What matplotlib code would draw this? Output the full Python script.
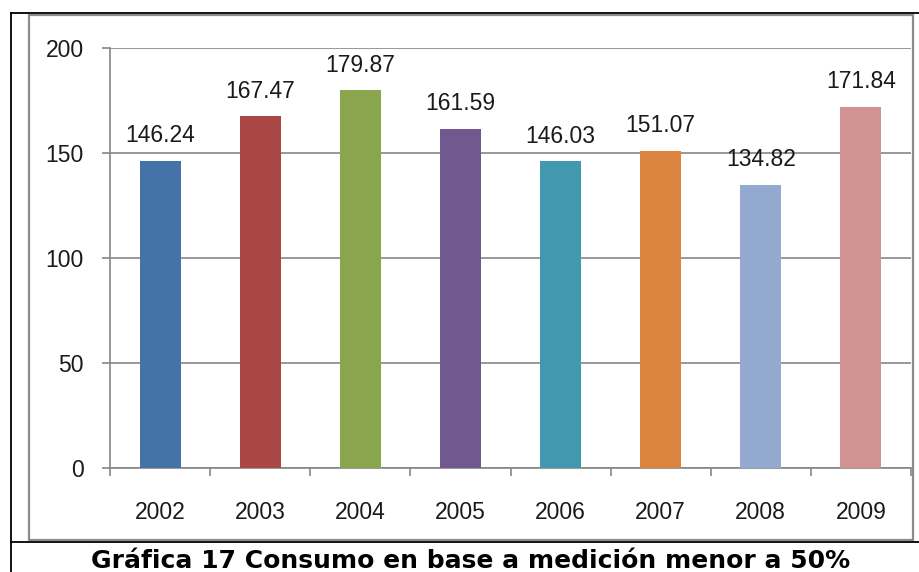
import matplotlib
matplotlib.use("Agg")
import matplotlib.pyplot as plt
from matplotlib.lines import Line2D
from matplotlib.patches import Rectangle

years = ["2002", "2003", "2004", "2005", "2006", "2007", "2008", "2009"]
values = [146.24, 167.47, 179.87, 161.59, 146.03, 151.07, 134.82, 171.84]
colors = ["#4572A7", "#AA4643", "#89A54E", "#71588F", "#4198AF", "#DB843D", "#93A9CF", "#D19392"]
yticks = [0, 50, 100, 150, 200]
caption = "Gráfica 17 Consumo en base a medición menor a 50%"

plt.rcParams['font.family'] = ['Liberation Sans', 'DejaVu Sans']

W, H = 919, 572
fig = plt.figure(figsize=(W / 100, H / 100), dpi=100)
fig.patch.set_facecolor("white")

def fx(px):
    return px / W

def fy(py):
    return 1 - py / H

# axes placement
left, right, top, bottom = 110, 911, 48, 468
ax = fig.add_axes([fx(left), fy(bottom), fx(right) - fx(left), fy(top) - fy(bottom)])

x = list(range(len(years)))
bars = ax.bar(x, values, width=0.41, color=colors, zorder=3)

for xi, v in zip(x, values):
    ax.annotate(f"{v:.2f}", (xi, v), xytext=(0, 13.5), textcoords="offset points",
                ha="center", va="baseline", fontsize=16.5, color="#1a1a1a", zorder=4)

ax.set_xlim(-0.5, len(years) - 0.5)
ax.set_ylim(0, 200)
ax.set_yticks(yticks)
ax.set_yticklabels([str(t) for t in yticks], fontsize=16.5)
ax.set_xticks(x)
ax.set_xticklabels(years, fontsize=16.5)
ax.set_xticks([i - 0.5 for i in range(len(years) + 1)], minor=True)

gray = "#868686"
ax.grid(axis="y", color=gray, linewidth=1.2, zorder=0)
ax.set_axisbelow(True)
ax.tick_params(axis="x", which="major", length=0, pad=23.5, colors="#1a1a1a")
ax.tick_params(axis="x", which="minor", length=6, width=1.2, color=gray)
ax.tick_params(axis="y", which="major", length=6, width=1.2, color=gray, pad=13, labelcolor="#1a1a1a")
for s in ["top", "right"]:
    ax.spines[s].set_visible(False)
for s in ["left", "bottom"]:
    ax.spines[s].set_color(gray)
    ax.spines[s].set_linewidth(1.2)

# chart area border (gray)
fig.add_artist(Rectangle((fx(29), fy(540)), fx(912.5) - fx(29), fy(14.5) - fy(540),
                         transform=fig.transFigure, fill=False, edgecolor="#8c8c8c", linewidth=1.6))
# outer table borders (black)
fig.add_artist(Line2D([fx(11), 1.0], [fy(13), fy(13)], transform=fig.transFigure, color="black", linewidth=1.3))
fig.add_artist(Line2D([fx(11), 1.0], [fy(542), fy(542)], transform=fig.transFigure, color="black", linewidth=1.3))
fig.add_artist(Line2D([fx(11), fx(11)], [fy(13), 0.0], transform=fig.transFigure, color="black", linewidth=1.3))

fig.text(fx(471), fy(568), caption, ha="center", va="baseline", fontsize=18,
         fontweight="bold", color="black", family="DejaVu Sans")

fig.savefig("out.png", dpi=100, facecolor="white")
